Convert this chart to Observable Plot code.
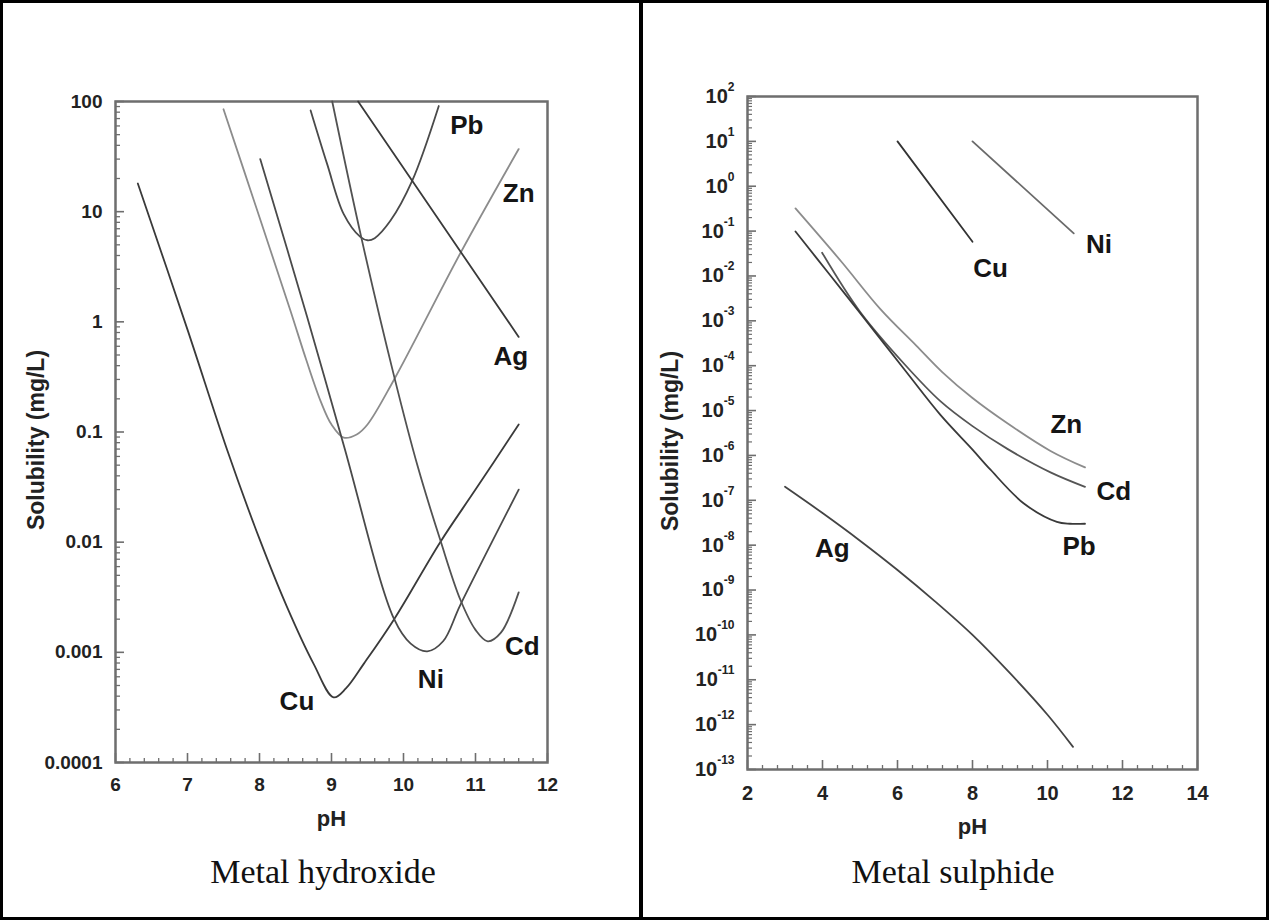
<!DOCTYPE html>
<html>
<head>
<meta charset="utf-8">
<script src="https://cdn.jsdelivr.net/npm/d3@7"></script>
<script src="https://cdn.jsdelivr.net/npm/@observablehq/plot@0.6"></script>
<style>
  html, body { margin: 0; padding: 0; background: #fff; }
  #page { position: relative; width: 1269px; height: 920px; background: #fff; overflow: hidden; }
  .panel { position: absolute; top: 0; }
  .title { position: absolute; width: 400px; text-align: center; font-family: 'Liberation Serif', 'Times New Roman', serif; font-size: 34px; line-height: 34px; color: #111; white-space: nowrap; }
  #border { position: absolute; left: 0; top: 0; width: 1269px; height: 920px; box-sizing: border-box; border: 3px solid #000; pointer-events: none; }
  #divider { position: absolute; left: 639px; top: 0; width: 4px; height: 920px; background: #000; }
</style>
</head>
<body>
<div id="page">
  <div id="left" class="panel" style="left:0px"></div>
  <div id="right" class="panel" style="left:641px"></div>
  <div class="title" style="left:123px; top:855px">Metal hydroxide</div>
  <div class="title" style="left:753px; top:855px">Metal sulphide</div>
  <div id="divider"></div>
  <div id="border"></div>
</div>
<script>
// ---------------- DATA (pH, solubility mg/L) ----------------
// Metal hydroxide panel
const hydCu = [[6.31, 18], [7.0, 0.85], [7.55, 0.069], [8.0, 0.0107], [8.38, 0.0026], [8.75, 0.00079], [9.03, 0.00039], [9.2, 0.00047], [9.45, 0.00079], [9.87, 0.002], [10.51, 0.01], [11.0, 0.03], [11.6, 0.117]];
const hydZn = [[7.5, 85], [8.0, 8.9], [8.43, 1.26], [8.65, 0.45], [8.85, 0.19], [9.0, 0.117], [9.17, 0.089], [9.35, 0.095], [9.5, 0.117], [9.87, 0.3], [10.79, 4.2], [11.6, 37]];
const hydPb = [[8.71, 83], [8.94, 27], [9.17, 9.5], [9.4, 5.9], [9.5, 5.5], [9.6, 5.75], [9.82, 8.3], [10.12, 19], [10.49, 91]];
const hydNi = [[8.01, 30], [8.66, 1.12], [9.17, 0.076], [9.87, 0.002], [10.1, 0.0012], [10.33, 0.00102], [10.55, 0.00126], [10.79, 0.0027], [11.6, 0.03]];
const hydCd = [[9.01, 100], [9.42, 5.6], [9.87, 0.32], [10.2, 0.048], [10.51, 0.0105], [10.79, 0.003], [11.0, 0.0016], [11.17, 0.00126], [11.35, 0.0015], [11.6, 0.0035]];
const hydAg = [[9.37, 100], [11.6, 0.73]];
const hydLabels = [["Pb", 10.88, 60], ["Zn", 11.60, 14.6], ["Ag", 11.49, 0.48], ["Cd", 11.65, 0.00113], ["Ni", 10.38, 0.00056], ["Cu", 8.52, 0.00036]];
const hydYTicks = [0.0001, 0.001, 0.01, 0.1, 1, 10, 100];
const hydYTickLabels = ["0.0001", "0.001", "0.01", "0.1", "1", "10", "100"];
const hydXTicks = [6, 7, 8, 9, 10, 11, 12];

// Metal sulphide panel
const sulCu = [[6.0, 10], [8.0, 0.058]];
const sulNi = [[8.0, 10], [10.7, 0.089]];
const sulZn = [[3.28, 0.32], [4.5, 0.021], [5.55, 0.0018], [6.5, 2.8e-4], [7.2, 7.1e-5], [8.0, 1.9e-5], [8.93, 5.2e-6], [10.08, 1.26e-6], [11.0, 5.4e-7]];
const sulCd = [[3.99, 0.033], [5.0, 0.0016], [6.2, 1.05e-4], [7.15, 1.6e-5], [8.0, 4.5e-6], [8.93, 1.4e-6], [10.08, 4.2e-7], [11.0, 2e-7]];
const sulPb = [[3.28, 0.098], [4.2, 0.0105], [5.0, 0.0015], [6.2, 7.9e-5], [7.15, 7.9e-6], [8.0, 1.35e-6], [8.48, 4.8e-7], [9.37, 8.5e-8], [10.25, 3.3e-8], [10.6, 3e-8], [11.0, 3e-8]];
const sulAg = [[3.0, 2e-7], [4.0, 5.2e-8], [5.0, 1.26e-8], [6.0, 2.8e-9], [7.0, 5.6e-10], [8.0, 1e-10], [9.0, 1.4e-11], [10.0, 1.66e-12], [10.68, 3.2e-13]];
const sulLabels = [["Cu", 8.48, 0.0148], ["Ni", 11.37, 0.051], ["Zn", 10.50, 4.8e-6], ["Cd", 11.77, 1.55e-7], ["Pb", 10.84, 9.3e-9], ["Ag", 4.26, 8.5e-9]];
const sulYTicks = [1e-13, 1e-12, 1e-11, 1e-10, 1e-9, 1e-8, 1e-7, 1e-6, 1e-5, 1e-4, 1e-3, 1e-2, 1e-1, 1, 1e1, 1e2];
const sulYTickExponents = ["-13", "-12", "-11", "-10", "-9", "-8", "-7", "-6", "-5", "-4", "-3", "-2", "-1", "0", "1", "2"];
const sulXTicks = [2, 4, 6, 8, 10, 12, 14];

const yTitle = "Solubility (mg/L)";
const xTitle = "pH";

// ---------------- STYLE ----------------
const FONT = "'Liberation Sans', Arial, Helvetica, sans-serif";
const FRAME = "#6e6e6e";
const hydStyles = {Cu: "#3a3a3a", Zn: "#8c8c8c", Pb: "#4a4a4a", Ni: "#4a4a4a", Cd: "#525252", Ag: "#3a3a3a"};
const sulStyles = {Cu: "#333333", Ni: "#6a6a6a", Zn: "#8c8c8c", Cd: "#555555", Pb: "#3a3a3a", Ag: "#444444"};

function decadeMinors(lo, hi) {
  const out = [];
  for (let e = lo; e < hi; e++) for (let m = 2; m <= 9; m++) out.push(m * Math.pow(10, e));
  return out;
}
function linearMinors(a, b, step, majors) {
  const out = [];
  for (let v = a; v <= b + 1e-9; v += step) {
    const r = Math.round(v * 100) / 100;
    if (!majors.some(m => Math.abs(m - r) < 1e-6)) out.push(r);
  }
  return out;
}

function lineMarks(series, styles) {
  return Object.entries(series).map(([name, pts]) =>
    Plot.line(pts, {x: d => d[0], y: d => d[1], stroke: styles[name], strokeWidth: 1.8, curve: "catmull-rom"}));
}

function superscriptTicks(svg) {
  svg.querySelectorAll('[aria-label="y-axis tick label"] text').forEach(t => {
    const s = t.textContent;
    if (s.includes("^")) {
      const [b, e] = s.split("^");
      t.textContent = b;
      const ts = document.createElementNS("http://www.w3.org/2000/svg", "tspan");
      ts.setAttribute("dy", "-12");
      ts.setAttribute("font-size", "12");
      ts.textContent = e;
      t.appendChild(ts);
    }
  });
}

// ---------------- LEFT: hydroxide ----------------
{
  const W = 641, H = 800, mL = 115, mR = 94, mT = 101, mB = 38;
  const fw = W - mL - mR, fh = H - mT - mB;
  const labelMap = new Map(hydYTicks.map((t, i) => [t, hydYTickLabels[i]]));
  const plot = Plot.plot({
    width: W, height: H, marginLeft: mL, marginRight: mR, marginTop: mT, marginBottom: mB,
    x: {domain: [6, 12]},
    y: {type: "log", domain: [1e-4, 100]},
    style: {fontFamily: FONT, fontSize: "19px", fontWeight: "bold", color: "#222", background: "transparent", overflow: "visible"},
    marks: [
      Plot.tickY(decadeMinors(-4, 2), {y: d => d, insetRight: fw - 5, stroke: FRAME, strokeWidth: 1.3}),
      Plot.tickY(hydYTicks, {y: d => d, insetRight: fw - 9, stroke: FRAME, strokeWidth: 1.6}),
      Plot.tickX(linearMinors(6, 12, 0.2, hydXTicks), {x: d => d, insetTop: fh - 4, stroke: FRAME, strokeWidth: 1.3}),
      Plot.tickX(hydXTicks, {x: d => d, insetTop: fh - 9, stroke: FRAME, strokeWidth: 1.6}),
      Plot.frame({stroke: FRAME, strokeWidth: 2.5}),
      Plot.axisY(hydYTicks, {tickSize: 0, tickPadding: 13, tickFormat: d => labelMap.get(d), label: null, fill: "#222"}),
      Plot.axisX(hydXTicks, {tickSize: 0, tickPadding: 15, tickFormat: d => String(d), label: null, fill: "#222"}),
      ...lineMarks({Cu: hydCu, Zn: hydZn, Pb: hydPb, Ni: hydNi, Cd: hydCd, Ag: hydAg}, hydStyles),
      Plot.text(hydLabels, {x: d => d[1], y: d => d[2], text: d => d[0], fontSize: 26, fontWeight: "bold", fill: "#151515"}),
      Plot.text([xTitle], {frameAnchor: "bottom", lineAnchor: "middle", textAnchor: "middle", dy: 56, fontSize: 22, fontWeight: "bold", fill: "#222"}),
      Plot.text([yTitle], {frameAnchor: "left", textAnchor: "middle", lineAnchor: "middle", rotate: -90, dx: -79, dy: 8, fontSize: 23, fontWeight: "bold", fill: "#222"})
    ]
  });
  document.getElementById("left").appendChild(plot);
}

// ---------------- RIGHT: sulphide ----------------
{
  const W = 628, H = 800, mL = 106, mR = 72, mT = 96, mB = 31;
  const fw = W - mL - mR, fh = H - mT - mB;
  const expMap = new Map(sulYTicks.map((t, i) => [t, "10^" + sulYTickExponents[i]]));
  const plot = Plot.plot({
    width: W, height: H, marginLeft: mL, marginRight: mR, marginTop: mT, marginBottom: mB,
    x: {domain: [2, 14]},
    y: {type: "log", domain: [1e-13, 1e2]},
    style: {fontFamily: FONT, fontSize: "20px", fontWeight: "bold", color: "#222", background: "transparent", overflow: "visible"},
    marks: [
      Plot.tickY(decadeMinors(-13, 2), {y: d => d, insetRight: fw - 5, stroke: FRAME, strokeWidth: 1.2}),
      Plot.tickY(sulYTicks, {y: d => d, insetRight: fw - 9, stroke: FRAME, strokeWidth: 1.6}),
      Plot.tickX(linearMinors(2, 14, 0.4, sulXTicks), {x: d => d, insetTop: fh - 4, stroke: FRAME, strokeWidth: 1.3}),
      Plot.tickX(sulXTicks, {x: d => d, insetTop: fh - 9, stroke: FRAME, strokeWidth: 1.6}),
      Plot.frame({stroke: FRAME, strokeWidth: 2.5}),
      Plot.axisY(sulYTicks, {tickSize: 0, tickPadding: 13, tickFormat: d => expMap.get(d), label: null, fill: "#222"}),
      Plot.axisX(sulXTicks, {tickSize: 0, tickPadding: 16, tickFormat: d => String(d), label: null, fill: "#222"}),
      ...lineMarks({Cu: sulCu, Ni: sulNi, Zn: sulZn, Cd: sulCd, Pb: sulPb, Ag: sulAg}, sulStyles),
      Plot.text(sulLabels, {x: d => d[1], y: d => d[2], text: d => d[0], fontSize: 26, fontWeight: "bold", fill: "#151515"}),
      Plot.text([xTitle], {frameAnchor: "bottom", lineAnchor: "middle", textAnchor: "middle", dy: 57, fontSize: 22, fontWeight: "bold", fill: "#222"}),
      Plot.text([yTitle], {frameAnchor: "left", textAnchor: "middle", lineAnchor: "middle", rotate: -90, dx: -77, dy: 8, fontSize: 23, fontWeight: "bold", fill: "#222"})
    ]
  });
  superscriptTicks(plot);
  document.getElementById("right").appendChild(plot);
}
</script>
</body>
</html>
